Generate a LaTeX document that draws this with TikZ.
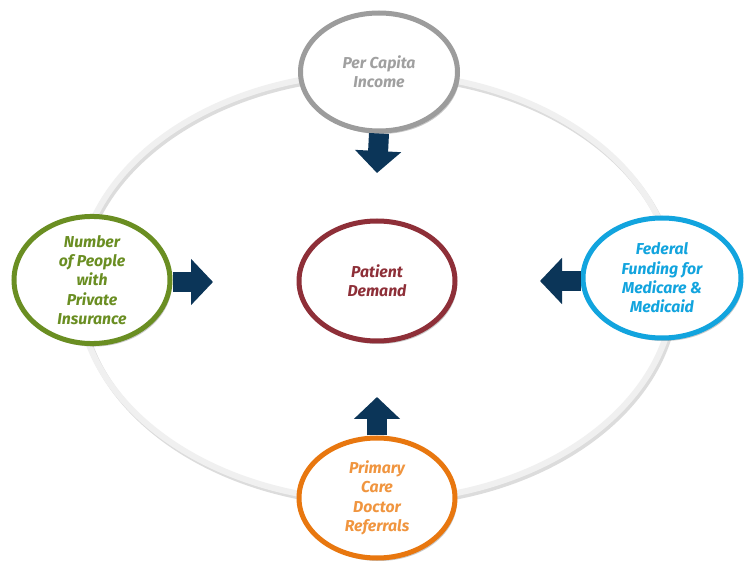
\documentclass[tikz,border=0pt]{standalone}
\usepackage{fontspec}
\setmainfont{Fira Sans}
\usetikzlibrary{shapes.geometric,arrows.meta,shadows}
\definecolor{cgray}{HTML}{9C9C9C}
\definecolor{cgraytxt}{HTML}{A0A0A0}
\definecolor{cred}{HTML}{8E2F38}
\definecolor{cgreen}{HTML}{6A8E22}
\definecolor{cblue}{HTML}{12A4DE}
\definecolor{corange}{HTML}{E8770F}
\definecolor{corangetxt}{HTML}{F0953F}
\definecolor{cnavy}{HTML}{0B3558}
\definecolor{cring}{HTML}{F0F0F0}
\begin{document}
\begin{tikzpicture}[x=1pt,y=-1pt,
  bub/.style={ellipse, draw, line width=5pt, fill=white,
    minimum width=156pt, minimum height=120pt, inner sep=0pt, align=center,
    font=\fontsize{15.8}{19.4}\selectfont\bfseries\itshape,
    drop shadow={shadow xshift=2pt, shadow yshift=-3pt, opacity=0.3, fill=black!70}},
  blockarrow/.style={draw=cnavy, line width=20pt,
    -{Triangle[width=45pt,length=22pt,fill=cnavy]}},
  ringline/.style={draw=cring, line width=6pt},
  ringshade/.style={draw=black!45, line width=6pt, opacity=0.3}]
\useasboundingbox (0,0) rectangle (748,561);
\fill[white] (0,0) rectangle (748,561);
% outer ring
\coordinate (ringc) at (376,287);
\draw[ringshade] ([shift={(2,3)}]ringc) ellipse [x radius=298pt, y radius=214pt];
\draw[ringline] (ringc) ellipse [x radius=298pt, y radius=214pt];
% bubbles
\node[bub, draw=cgray, text=cgraytxt, minimum width=157pt, minimum height=118pt] (top) at (379,72) {Per Capita\\Income};
\node[bub, draw=cred, text=cred] (center) at (377,281) {Patient\\Demand};
\node[bub, draw=cgreen, text=cgreen] (left) at (92,280) {Number\\of People\\with\\Private\\Insurance};
\node[bub, draw=cblue, text=cblue, minimum width=158pt] (right) at (662,278) {Federal\\Funding for\\Medicare \&\\Medicaid};
\node[bub, draw=corange, text=corangetxt] (bottom) at (377,498) {Primary\\Care\\Doctor\\Referrals};
% arrow tips
\coordinate (tT) at (377,173);
\coordinate (tB) at (377,397);
\coordinate (tL) at (213,282);
\coordinate (tR) at (540,281);
\draw[blockarrow] (top.south) -- (tT);
\draw[blockarrow] (bottom.north) -- (tB);
\draw[blockarrow] (left.east |- tL) -- (tL);
\draw[blockarrow] (right.west |- tR) -- (tR);
\end{tikzpicture}
\end{document}
